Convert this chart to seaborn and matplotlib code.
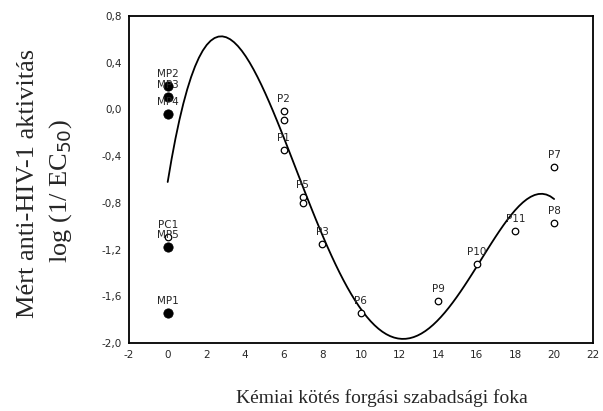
import matplotlib
matplotlib.use("Agg")
import numpy as np
import pandas as pd
import matplotlib.pyplot as plt
import seaborn as sns
from matplotlib.ticker import FuncFormatter, MultipleLocator

# ─── Data ────────────────────────────────────────────────────────────────────
names  = ["MP1", "MP2", "MP3", "MP4", "MP5", "PC1",
          "P1", "P2", "P4", "P5", "P12", "P3", "P6", "P9", "P10", "P11", "P7", "P8"]
rot    = [0, 0, 0, 0, 0, 0,
          6, 6, 6, 7, 7, 8, 10, 14, 16, 18, 20, 20]
act    = [-1.74, 0.20, 0.11, -0.04, -1.18, -1.09,
          -0.35, -0.01, -0.09, -0.75, -0.80, -1.15, -1.74, -1.64, -1.32, -1.04, -0.49, -0.97]
filled = [True, True, True, True, True, False,
          False, False, False, False, False, False, False, False, False, False, False, False]
show_label = [True, True, True, True, True, True,
              True, True, False, True, False, True, True, True, True, True, True, True]

df = pd.DataFrame({"name": names, "rot": rot, "act": act,
                   "filled": filled, "label": show_label})

sns.set_style("white")
fig = plt.figure(figsize=(6.03, 4.11), dpi=100)
ax = fig.add_axes([0.214, 0.1655, 0.769, 0.7955])

# polynomial regression curve through all compounds
sns.regplot(data=df, x="rot", y="act", order=4, ci=None, scatter=False,
            color="black", line_kws={"lw": 1.3}, ax=ax)

sns.scatterplot(data=df[~df.filled], x="rot", y="act", marker="o", s=22,
                facecolor="white", edgecolor="black", linewidth=0.9, ax=ax, zorder=3)
sns.scatterplot(data=df[df.filled], x="rot", y="act", marker="o", s=45,
                color="black", edgecolor="black", ax=ax, zorder=4)

for _, r in df[df.label].iterrows():
    ax.annotate(r["name"], (r["rot"], r["act"]), xytext=(0, 5), textcoords="offset points",
                ha="center", va="bottom", fontsize=7.5, fontfamily="DejaVu Sans", zorder=5)

ax.set_xlim(-2, 22)
ax.set_ylim(-2.0, 0.8)
ax.xaxis.set_major_locator(MultipleLocator(2))
ax.yaxis.set_major_locator(MultipleLocator(0.4))
ax.xaxis.set_major_formatter(FuncFormatter(lambda v, p: f"{v:.0f}"))
ax.yaxis.set_major_formatter(FuncFormatter(lambda v, p: f"{v:.1f}".replace(".", ",").replace("-0,0", "0,0")))
ax.tick_params(length=0, labelsize=7.5, pad=5)
for s in ax.spines.values():
    s.set_color("black")
    s.set_linewidth(1.3)
ax.set_xlabel("")
ax.set_ylabel("")

fig.text(0.047, 0.553, "Mért anti-HIV-1 aktivitás", rotation=90, ha="center", va="center",
         fontsize=19, family="Liberation Serif")
fig.text(0.100, 0.535, "log (1/ EC$_{50}$)", rotation=90, ha="center", va="center",
         fontsize=19, family="Liberation Serif")
fig.text(0.633, 0.032, "Kémiai kötés forgási szabadsági foka", ha="center", va="center",
         fontsize=14, family="Liberation Serif")

fig.savefig("out.png", dpi=100)
